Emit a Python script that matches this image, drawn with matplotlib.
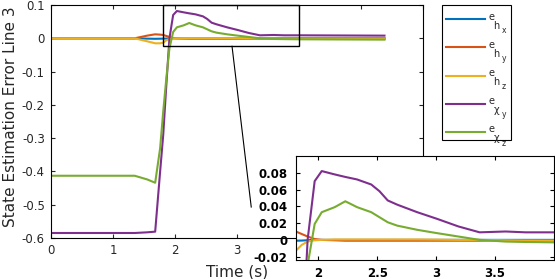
import matplotlib.pyplot as plt
import numpy as np
from matplotlib.patches import Rectangle

# time samples (s)
t = [0, 1.35, 1.55, 1.68, 1.76, 1.81, 1.86, 1.91, 1.97, 2.03, 2.14, 2.23, 2.33,
     2.45, 2.52, 2.59, 2.67, 2.84, 3.01, 3.19, 3.37, 3.59, 3.76, 4.02, 5.38]

e_hx = [0, 0, -0.001, -0.0015, -0.0012, -0.001, -0.0008, -0.0004, 0, 0, 0, 0, 0,
        0, 0, 0, 0, 0, 0, 0, 0, 0, 0, 0, 0]
e_hy = [0, 0, 0.008, 0.012, 0.011, 0.010, 0.007, 0.004, 0.001, 0.0, -0.0005, -0.001, -0.001,
        -0.001, -0.001, -0.001, -0.001, -0.001, -0.001, -0.001, -0.001, -0.0005, -0.0005, -0.0005, -0.0005]
e_hz = [0, 0, -0.009, -0.015, -0.015, -0.013, -0.006, -0.002, -0.0005, 0, 0.0005, 0.0005, 0.0005,
        0.0005, 0.0005, 0.0005, 0.0005, 0.0005, 0.0003, 0.0, 0.0, -0.0005, -0.0008, -0.001, -0.001]
e_chiy = [-0.585, -0.585, -0.583, -0.581, -0.40, -0.29, -0.14, 0.0, 0.070, 0.082, 0.078, 0.075, 0.072,
          0.066, 0.058, 0.047, 0.042, 0.033, 0.025, 0.016, 0.009, 0.010, 0.009, 0.009, 0.008]
e_chiz = [-0.413, -0.413, -0.424, -0.434, -0.33, -0.22, -0.12, -0.03, 0.019, 0.033, 0.039, 0.046, 0.039,
          0.033, 0.027, 0.021, 0.017, 0.012, 0.008, 0.004, 0.0, -0.002, -0.0025, -0.003, -0.004]

series = [e_hx, e_hy, e_hz, e_chiy, e_chiz]
# legend label pieces: base, first subscript, second subscript (MATLAB-style e_{h_x})
sub1 = ['h', 'h', 'h', 'χ', 'χ']
sub2 = ['x', 'y', 'z', 'y', 'z']
colors = ['#0072BD', '#D95319', '#EDB120', '#7E2F8E', '#77AC30']
txt_color = '#262626'

zoom_x = (1.81, 4.0)
zoom_y = (-0.024, 0.1)

W, H = 555, 279
fig = plt.figure(figsize=(W / 100, H / 100), dpi=100)
ax = fig.add_axes([0.092, 0.147, 0.670, 0.835])

handles = []
for y, c in zip(series, colors):
    h, = ax.plot(t, y, color=c, linewidth=1.5)
    handles.append(h)

ax.set_xlim(0, 6)
ax.set_ylim(-0.6, 0.1)
ax.set_xticks(np.arange(0, 7, 1))
ax.set_yticks(np.arange(-0.6, 0.11, 0.1))
ax.set_yticklabels(['-0.6', '-0.5', '-0.4', '-0.3', '-0.2', '-0.1', '0', '0.1'])
ax.tick_params(direction='in', top=True, right=True, labelsize=8.5, length=3,
               pad=4.5, colors=txt_color)
for s in ax.spines.values():
    s.set_linewidth(0.8)
ax.set_xlabel('Time (s)', fontsize=11, color=txt_color, labelpad=5)
ax.set_ylabel('State Estimation Error Line 3', fontsize=11, color=txt_color)
ax.yaxis.set_label_coords(-0.09, 0.52)

# zoom box and connector
ax.add_patch(Rectangle((zoom_x[0], zoom_y[0]), zoom_x[1] - zoom_x[0], zoom_y[1] - zoom_y[0],
                       fill=False, edgecolor='black', linewidth=1, clip_on=False, zorder=5))
ax.plot([2.92, 3.23], [zoom_y[0], -0.507], color='black', linewidth=0.8, clip_on=False)

# legend frame drawn separately (MATLAB style, more room above/below)
ax.add_artist(Rectangle((442 / W, 1 - 140 / H), 69 / W, 135 / H, transform=fig.transFigure,
                        facecolor='white', edgecolor='black', linewidth=0.8,
                        clip_on=False, zorder=4))
leg = ax.legend(handles=handles, labels=['e'] * 5, loc='upper left',
                bbox_to_anchor=(445.7 / W, 1 - 14.8 / H), bbox_transform=fig.transFigure,
                fontsize=7, frameon=False, handlelength=4.0, labelspacing=1.86,
                borderpad=0, handletextpad=0.4, borderaxespad=0, labelcolor=txt_color)
for txt, s1, s2 in zip(leg.get_texts(), sub1, sub2):
    txt.set_y(3)  # raise the base letter above the line like MATLAB does
    a1 = ax.annotate(s1, xy=(0, 0), xycoords=txt, xytext=(3.6, 0.8),
                     textcoords='offset points', fontsize=7, va='top', ha='left',
                     color=txt_color, annotation_clip=False, zorder=10)
    ax.annotate(s2, xy=(1, 0), xycoords=a1, xytext=(1.6, 3.2),
                textcoords='offset points', fontsize=5.5, va='top', ha='left',
                color=txt_color, annotation_clip=False, zorder=10)

# inset
axi = fig.add_axes([0.533, 0.068, 0.465, 0.373])
for y, c in zip(series, colors):
    axi.plot(t, y, color=c, linewidth=1.5)
axi.set_xlim(*zoom_x)
axi.set_ylim(*zoom_y)
axi.set_xticks([2, 2.5, 3, 3.5])
axi.set_xticklabels(['2', '2.5', '3', '3.5'])
axi.set_yticks([-0.02, 0, 0.02, 0.04, 0.06, 0.08])
axi.set_yticklabels(['-0.02', '0', '0.02', '0.04', '0.06', '0.08'])
axi.tick_params(direction='in', top=True, right=True, labelsize=8.5, length=3)
axi.tick_params(axis='x', pad=5)
axi.tick_params(axis='y', pad=6)
for lab in axi.get_xticklabels() + axi.get_yticklabels():
    lab.set_fontweight('bold')
for s in axi.spines.values():
    s.set_linewidth(0.8)

fig.savefig('out.png', dpi=100)
